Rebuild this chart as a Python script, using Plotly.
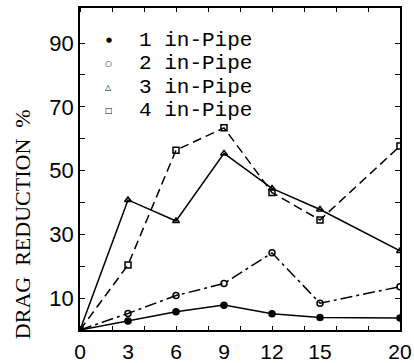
import plotly.graph_objects as go

x_vals = [0, 3, 6, 9, 12, 15, 20]
s1 = [0, 2.8, 5.7, 7.8, 5.1, 3.9, 3.8]
s2 = [0, 5.2, 10.8, 14.6, 24.2, 8.4, 13.6]
s3 = [0, 40.8, 34.2, 55.4, 44.4, 37.8, 24.8]
s4 = [0, 20.4, 56.4, 63.4, 43.1, 34.5, 57.7]
names = ["1 in-Pipe", "2 in-Pipe", "3 in-Pipe", "4 in-Pipe"]
x_ticks = [0, 3, 6, 9, 12, 15, 20]
y_ticks = [10, 20, 30, 40, 50, 60, 70, 80, 90]
y_ticktext = ["10", "", "30", "", "50", "", "70", "", "90"]

series = [s1, s2, s3, s4]
dashes = ["solid", "12px,4px,3px,4px", "solid", "9px,5px"]
symbols = ["circle", "circle-open", "triangle-up-open", "square-open"]
sizes = [6, 6, 6, 6]
glyphs = ["●", "○", "△", "□"]

fig = go.Figure()
for ys, d, sym, sz, nm in zip(series, dashes, symbols, sizes, names):
    fig.add_trace(go.Scatter(
        x=x_vals, y=ys, mode="lines+markers", name=nm,
        line=dict(color="black", width=1.5, dash=d),
        marker=dict(symbol=sym, size=sz, color="black",
                    line=dict(color="black", width=1.5)),
        showlegend=False,
    ))

# legend as annotations
leg_y = [0.90, 0.828, 0.754, 0.683]
leg_sizes = [7, 8, 8, 8]
for g, nm, yy, gs in zip(glyphs, names, leg_y, leg_sizes):
    fig.add_annotation(x=0.09, y=yy, xref="paper", yref="paper", text=g,
                       showarrow=False, xanchor="center", yanchor="middle",
                       font=dict(family="DejaVu Sans", size=gs, color="black"))
    fig.add_annotation(x=0.178, y=yy, xref="paper", yref="paper", text=nm,
                       showarrow=False, xanchor="left", yanchor="middle",
                       font=dict(family="Liberation Mono", size=21, color="black"))

fig.add_annotation(x=-0.18, y=0.33, xref="paper", yref="paper",
                   text="DRAG  REDUCTION  %", textangle=-90, showarrow=False,
                   xanchor="center", yanchor="middle",
                   font=dict(family="Liberation Serif", size=22, color="black"))

fig.update_xaxes(range=[0, 20], tickvals=x_ticks, ticktext=[str(v) for v in x_ticks],
                 ticks="", showgrid=False, zeroline=False, ticklabelstandoff=2,
                 automargin=False,
                 showline=True, linecolor="black", linewidth=1.5, mirror="allticks",
                 minor=dict(ticks="inside", dtick=2, tick0=0, ticklen=4,
                            tickcolor="black", tickwidth=1.2, showgrid=False),
                 tickfont=dict(family="Liberation Sans", size=21, color="black"))
fig.update_yaxes(range=[0, 101], tickvals=y_ticks, ticktext=y_ticktext,
                 ticks="inside", ticklen=5, tickcolor="black", tickwidth=1.2,
                 showgrid=False, zeroline=False, automargin=False,
                 showline=True, linecolor="black", linewidth=1.5, mirror="allticks",
                 tickfont=dict(family="Liberation Sans", size=22, color="black"))

fig.update_layout(width=414, height=363, margin=dict(l=80, r=14, t=8, b=33),
                  plot_bgcolor="white", paper_bgcolor="white", showlegend=False)

fig.write_html("out.html")
